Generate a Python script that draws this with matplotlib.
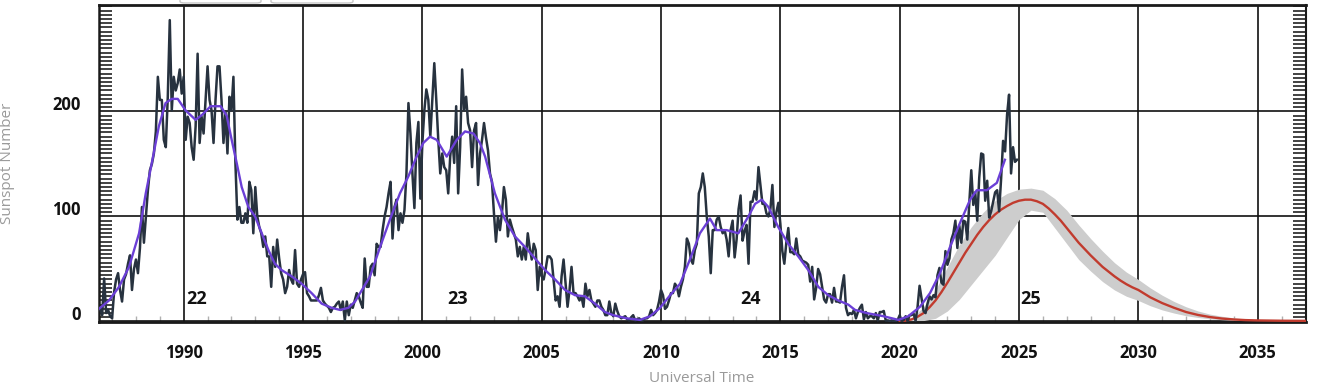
import matplotlib
matplotlib.use("Agg")
import matplotlib.pyplot as plt
import matplotlib.transforms as mtransforms
from matplotlib.ticker import MultipleLocator, FixedLocator
from matplotlib.patches import FancyBboxPatch
import numpy as np

# ---------------- data ----------------
start_year = 1986
start_month_index = 5  # June 1986 (0 = Jan 1986)

monthly_ssn = [
    # 1986 Jun-Dec
    14, 12, 6, 41, 8, 11, 5,
    # 1987
    3, 28, 40, 46, 30, 19, 40, 45, 55, 63, 30, 50,
    # 1988
    59, 46, 70, 109, 75, 100, 125, 144, 150, 160, 181, 233,
    # 1989
    211, 211, 173, 166, 214, 287, 201, 233, 220, 227, 240, 217,
    # 1990
    233, 173, 195, 189, 166, 154, 186, 255, 170, 195, 179, 211,
    # 1991
    243, 211, 201, 170, 211, 243, 243, 211, 170, 200, 160, 214,
    # 1992
    201, 233, 151, 97, 109, 94, 94, 103, 94, 133, 125, 84,
    # 1993
    128, 100, 90, 84, 71, 81, 62, 62, 33, 71, 52, 78,
    # 1994
    60, 46, 40, 27, 33, 49, 40, 36, 68, 36, 33, 40,
    # 1995
    45, 47, 27, 24, 20, 20, 20, 20, 25, 32, 20, 17,
    # 1996
    15, 13, 9, 13, 14, 17, 19, 11, 19, 1, 19, 6,
    # 1997
    16, 13, 20, 27, 24, 18, 13, 60, 33, 33, 52, 55,
    # 1998
    44, 74, 71, 71, 87, 100, 109, 122, 133, 79, 109, 116,
    # 1999
    87, 103, 94, 106, 141, 208, 179, 141, 108, 170, 190, 117,
    # 2000
    170, 201, 221, 211, 176, 211, 246, 211, 173, 141, 160, 147,
    # 2001
    144, 122, 157, 176, 151, 205, 122, 166, 240, 201, 214, 189,
    # 2002
    182, 147, 182, 189, 130, 160, 173, 189, 175, 163, 141, 133,
    # 2003
    103, 76, 100, 87, 103, 128, 116, 81, 97, 90, 84, 78,
    # 2004
    62, 71, 59, 71, 59, 84, 70, 59, 74, 68, 30, 52,
    # 2005
    43, 40, 50, 62, 62, 59, 40, 20, 24, 14, 43, 59,
    # 2006
    36, 14, 30, 52, 27, 27, 24, 20, 24, 14, 36, 24,
    # 2007
    30, 20, 17, 14, 20, 20, 14, 11, 6, 6, 19, 8,
    # 2008
    5, 17, 10, 5, 3, 4, 5, 2, 1, 4, 6, 1,
    # 2009
    2, 3, 1, 1, 3, 3, 5, 11, 6, 8, 11, 19,
    # 2010
    30, 25, 12, 14, 20, 27, 27, 36, 33, 24, 33, 40,
    # 2011
    52, 79, 74, 59, 55, 68, 74, 122, 128, 141, 128, 100,
    # 2012
    81, 46, 87, 87, 97, 100, 90, 84, 87, 78, 62, 87,
    # 2013
    96, 61, 78, 107, 120, 77, 86, 92, 55, 114, 114, 124,
    # 2014
    116, 147, 129, 112, 112, 103, 100, 107, 130, 90, 104, 113,
    # 2015
    93, 67, 55, 75, 89, 66, 66, 64, 79, 64, 62, 58,
    # 2016
    57, 56, 54, 38, 52, 21, 32, 50, 45, 33, 21, 18,
    # 2017
    26, 26, 18, 32, 19, 19, 18, 33, 44, 13, 6, 8,
    # 2018
    7, 11, 3, 9, 13, 16, 2, 9, 3, 5, 5, 3,
    # 2019
    8, 1, 9, 9, 10, 1, 1, 0.5, 1, 0.4, 0.5, 1.5,
    # 2020
    6, 0.2, 1.5, 5, 0.2, 6, 6, 7.5, 0.6, 14, 34, 22,
    # 2021
    10, 8, 17, 24, 21, 25, 23, 44, 51, 37, 35, 67,
    # 2022
    54, 60, 78, 84, 96, 70, 91, 75, 96, 95, 78, 113,
    # 2023
    144, 111, 123, 96, 137, 160, 159, 115, 134, 99, 105, 114,
    # 2024
    123, 125, 105, 136, 172, 162, 197, 216, 141, 166, 152, 154,
]

smooth_year = [1986.45, 1986.87, 1987.29, 1987.71, 1988.13, 1988.41, 1988.69, 1988.96,
               1989.24, 1989.50, 1989.75, 1990.08, 1990.50, 1990.78, 1991.13, 1991.55,
               1991.80, 1992.01, 1992.22, 1992.43, 1992.71, 1992.99, 1993.27, 1993.55,
               1993.82, 1994.10, 1994.52, 1994.94, 1995.36, 1995.78, 1996.20, 1996.55,
               1996.90, 1997.18, 1997.39, 1997.81, 1998.23, 1998.64, 1999.06, 1999.41,
               1999.76, 2000.04, 2000.32, 2000.60, 2001.02, 2001.44, 2001.79, 2002.14,
               2002.41, 2002.63, 2003.04, 2003.46, 2003.88, 2004.30, 2004.72, 2005.14,
               2005.56, 2005.98, 2006.40, 2006.81, 2007.23, 2007.65, 2008.00, 2008.56,
               2009.12, 2009.54, 2009.96, 2010.38, 2010.80, 2011.21, 2011.63, 2012.05,
               2012.33, 2012.75, 2013.24, 2013.66, 2013.94, 2014.22, 2014.50, 2014.91,
               2015.33, 2015.75, 2016.17, 2016.59, 2017.01, 2017.43, 2017.85, 2018.13,
               2018.62, 2019.32, 2019.95, 2020.36, 2020.85, 2021.27, 2021.69, 2022.11,
               2022.53, 2022.95, 2023.23, 2023.65, 2024.07, 2024.41]
smooth_val = [12, 20, 33, 52, 84, 122, 154, 186,
              208, 212, 212, 201, 192, 197, 205, 205,
              196, 173, 151, 128, 109, 100, 84, 68,
              55, 49, 43, 36, 27, 17, 13, 11,
              13, 19, 27, 43, 71, 97, 122, 138,
              157, 170, 176, 173, 157, 173, 181, 179,
              170, 157, 122, 97, 81, 71, 60, 49,
              40, 30, 25, 24, 17, 9, 6, 3,
              1.5, 5, 13, 25, 36, 59, 84, 98,
              87, 87, 84, 100, 112, 116, 109, 90,
              74, 62, 49, 33, 25, 20, 16, 11,
              8, 5, 1.5, 5, 14, 27, 46, 71,
              94, 116, 125, 125, 132, 154]

pred_year = [2020.0, 2020.25, 2020.5, 2020.75, 2021.0, 2021.25, 2021.5, 2021.75,
             2022.0, 2022.25, 2022.5, 2022.75, 2023.0, 2023.25, 2023.5, 2023.75,
             2024.0, 2024.25, 2024.5, 2024.75, 2025.0, 2025.25, 2025.5, 2025.75,
             2026.0, 2026.25, 2026.5, 2026.75, 2027.0, 2027.25, 2027.5, 2027.75,
             2028.0, 2028.25, 2028.5, 2028.75, 2029.0, 2029.25, 2029.5, 2029.75,
             2030.0, 2030.5, 2031.0, 2031.5, 2032.0, 2032.5, 2033.0, 2033.5,
             2034.0, 2034.5, 2035.0, 2036.0, 2037.0]
pred_val = [0.3, 0.8, 2, 4.5, 8, 13.5, 20, 28,
            37, 46.5, 56, 65.5, 74, 82.5, 90, 96.5,
            102, 106.5, 110, 113, 115, 116, 116, 114.5,
            112, 107.5, 102, 96, 89, 82, 75, 69,
            63, 57.5, 52, 47.5, 43, 39, 35.5, 32.5,
            30, 23, 17.5, 13, 9, 6.2, 4.2, 2.8,
            1.9, 1.3, 1.0, 0.7, 0.6]

band_year = [2020.0, 2020.5, 2021.0, 2021.5, 2022.0, 2022.5, 2023.0, 2023.5,
             2024.0, 2024.5, 2025.0, 2025.5, 2026.0, 2026.5, 2027.0, 2027.5,
             2028.0, 2028.5, 2029.0, 2029.5, 2030.0, 2030.5, 2031.0, 2031.5,
             2032.0, 2032.5, 2033.0, 2033.5, 2034.0, 2034.5, 2035.0, 2036.0, 2037.0]
band_low = [0, 0.2, 0.8, 3, 10, 21, 35, 49,
            63, 80, 97, 106, 104, 89, 74, 59,
            48, 38, 30, 24, 20, 15, 11, 8,
            5.5, 3.8, 2.5, 1.7, 1.1, 0.8, 0.6, 0.4, 0.3]
band_high = [0.3, 3, 14, 30, 52, 73, 90, 104,
             115, 122, 126, 127, 125, 117, 106, 92,
             79, 67, 56, 47, 40, 32, 25, 19,
             14, 10, 7, 5, 3.4, 2.4, 1.7, 1.1, 0.9]

cycle_labels = ["22", "23", "24", "25"]
cycle_label_year = [1990.56, 2001.47, 2013.75, 2025.47]

x_major_ticks = [1990, 1995, 2000, 2005, 2010, 2015, 2020, 2025, 2030, 2035]
y_major_ticks = [0, 100, 200]

# ---------------- figure ----------------
W, H = 1322, 392
fig = plt.figure(figsize=(W / 100, H / 100), dpi=100)
ax = fig.add_axes([99 / W, 1 - 322 / H, (1306 - 99) / W, (322 - 5) / H])

months = np.arange(len(monthly_ssn)) + start_month_index
t_monthly = start_year + months / 12.0

DARK = "#27323f"
PURPLE = "#6b3fd6"
RED = "#c13b2e"
BAND = "#cdcdcd"

ax.fill_between(band_year, band_low, band_high, color=BAND, lw=0, zorder=2)
ax.plot(pred_year, pred_val, color=RED, lw=1.7, zorder=3)
ax.plot(t_monthly, monthly_ssn, color=DARK, lw=1.8, zorder=4)
ax.plot(smooth_year, smooth_val, color=PURPLE, lw=1.7, zorder=5)

for lab, yr in zip(cycle_labels, cycle_label_year):
    ax.text(yr, 21.5, lab, ha="center", va="center", fontsize=13,
            fontweight="bold", family="Open Sans", color="#111111", zorder=6)

ax.set_xlim(1986.451, 2037.025)
ax.set_ylim(-0.5, 301.4)

ax.xaxis.set_major_locator(FixedLocator(x_major_ticks))
ax.yaxis.set_major_locator(FixedLocator(y_major_ticks))
ax.xaxis.set_minor_locator(FixedLocator([y for y in range(1987, 2037) if y % 5 != 0]))
ax.yaxis.set_minor_locator(MultipleLocator(4))

ax.grid(True, which="major", color="#111111", lw=1.2, zorder=1)
ax.set_axisbelow(True)

ax.tick_params(axis="both", which="major", length=0)
ax.tick_params(axis="x", which="major", pad=16, labelsize=12, labelcolor="#111111")
ax.tick_params(axis="y", which="major", pad=13, labelsize=12, labelcolor="#111111")
ax.tick_params(axis="x", which="minor", direction="in", length=4, width=1.0,
               color="#b0b0b0", bottom=True, top=False)
ax.tick_params(axis="y", which="minor", direction="in", length=9.5, width=1.2,
               color="#222222", left=True, right=True)

for lbl in ax.get_xticklabels() + ax.get_yticklabels():
    lbl.set_fontweight("bold")
    lbl.set_family("Open Sans")

offset = mtransforms.ScaledTranslation(0, 8 / 100, fig.dpi_scale_trans)
for lbl in ax.get_yticklabels():
    lbl.set_transform(lbl.get_transform() + offset)

for side, lw in [("top", 2.0), ("bottom", 2.0), ("left", 1.8), ("right", 1.5)]:
    ax.spines[side].set_linewidth(lw)
    ax.spines[side].set_color("#1a1a1a")

fig.text(8 / W, 1 - 163 / H, "Sunspot Number", rotation=90, ha="center", va="center",
         fontsize=11, color="#9a9a9a", family="Open Sans")
fig.text(702 / W, 1 - 378 / H, "Universal Time", ha="center", va="center",
         fontsize=11, color="#9a9a9a", family="Open Sans")

# partially visible buttons at the top edge
for x0, x1 in [(180, 261), (271, 353)]:
    p = FancyBboxPatch((x0 / W, 1 - 3 / H), (x1 - x0) / W, 20 / H,
                       boxstyle="round,pad=0,rounding_size=0.004",
                       transform=fig.transFigure, facecolor="white",
                       edgecolor="#c8c8c8", lw=1.0, clip_on=False)
    fig.patches.append(p)

fig.savefig("out.png", dpi=100)
